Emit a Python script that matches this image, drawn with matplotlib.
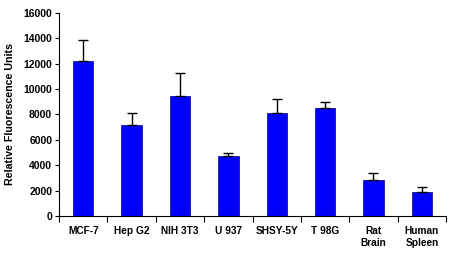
import matplotlib
matplotlib.use("Agg")
import matplotlib.pyplot as plt
import numpy as np

labels = ["MCF-7", "Hep G2", "NIH 3T3", "U 937", "SHSY-5Y", "T 98G", "Rat\nBrain", "Human\nSpleen"]
values = [12250, 7150, 9430, 4730, 8120, 8490, 2810, 1870]
errors = [1600, 950, 1840, 210, 1080, 470, 550, 400]

plt.rcParams['font.family'] = ['Liberation Sans', 'DejaVu Sans']
plt.rcParams['font.weight'] = 'bold'

fig = plt.figure(figsize=(4.51, 2.54), dpi=100)
ax = fig.add_axes([0.131, 0.150, 0.858, 0.799])

x = np.arange(len(labels))
ax.bar(x, values, width=0.42, color="#0000FF", edgecolor="#000080", linewidth=0.5,
       yerr=[np.zeros(len(errors)), errors], error_kw=dict(ecolor="black", elinewidth=1, capsize=3.5, capthick=1))

ax.set_xlim(-0.5, len(labels) - 0.5)
ax.set_ylim(0, 16000)
ax.set_yticks(range(0, 16001, 2000))
ax.set_xticks(x)
ax.set_xticklabels(labels, fontsize=7.3, fontweight="bold", linespacing=1.25)
ax.set_xticks(np.arange(-0.5, len(labels)), minor=True)
ax.tick_params(axis="x", which="major", length=0, pad=7)
ax.tick_params(axis="x", which="minor", length=4, width=0.8, direction="out")
ax.tick_params(axis="y", length=3, width=0.8, labelsize=7.5, pad=2)
for t in ax.get_yticklabels():
    t.set_fontweight("bold")
ax.set_ylabel("Relative Fluorescence Units", fontsize=7.7, fontweight="bold", labelpad=6)
ax.spines["top"].set_visible(False)
ax.spines["right"].set_visible(False)
ax.spines["left"].set_linewidth(0.8)
ax.spines["bottom"].set_linewidth(0.8)

fig.savefig("out.png", dpi=100)
